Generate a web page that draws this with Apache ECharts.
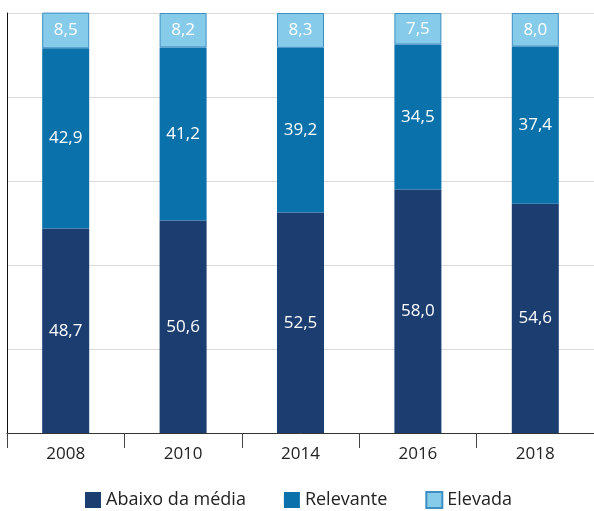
<!DOCTYPE html>
<html><head><meta charset="utf-8">
<script src="https://cdn.jsdelivr.net/npm/echarts@6/dist/echarts.min.js"></script>
<style>html,body{margin:0;padding:0;background:#fff}#c{width:594px;height:511px}</style>
</head><body><div id="c"></div>
<script>
var categories = ['2008','2010','2014','2016','2018'];
var abaixo = [48.7, 50.6, 52.5, 58.0, 54.6];
var relevante = [42.9, 41.2, 39.2, 34.5, 37.4];
var elevada = [8.5, 8.2, 8.3, 7.5, 8.0];
var seriesNames = ['Abaixo da média', 'Relevante', 'Elevada'];

var font = '"Open Sans", "Noto Sans", sans-serif';
function fmt(p){ return p.value.toFixed(1).replace('.', ','); }
function mk(name, data, color, border){
  return {
    name: name, type: 'bar', stack: 't', data: data, barWidth: 47,
    itemStyle: {color: color, borderColor: border, borderWidth: border ? 1 : 0},
    label: {show: true, position: 'inside', color: '#fff', fontSize: 17, fontFamily: font, formatter: fmt}
  };
}
var chart = echarts.init(document.getElementById('c'));
chart.setOption({
  animation: false,
  grid: {left: 7, right: -3, top: 13, bottom: 78},
  legend: {
    top: 491, left: 85, padding: 0, itemWidth: 16, itemHeight: 16, itemGap: 38,
    textStyle: {fontSize: 18, color: '#222', fontFamily: font},
    data: seriesNames.map(function(n){ return {name: n, icon: 'rect'}; })
  },
  xAxis: {
    type: 'category', data: categories,
    axisLine: {lineStyle: {color: '#333', width: 1}},
    axisTick: {show: true, length: 15, lineStyle: {color: '#444'}},
    axisLabel: {fontSize: 17, color: '#222', fontFamily: font, margin: 13}
  },
  yAxis: {
    type: 'value', min: 0, max: 100, interval: 20,
    axisLine: {show: true, lineStyle: {color: '#111', width: 1}},
    axisTick: {show: false}, axisLabel: {show: false},
    splitLine: {lineStyle: {color: '#d9d9d9', width: 1}}
  },
  series: [
    mk(seriesNames[0], abaixo, '#1b3d70', null),
    mk(seriesNames[1], relevante, '#0b71ab', null),
    mk(seriesNames[2], elevada, '#87cbea', '#3d8fc3')
  ]
});
</script></body></html>
